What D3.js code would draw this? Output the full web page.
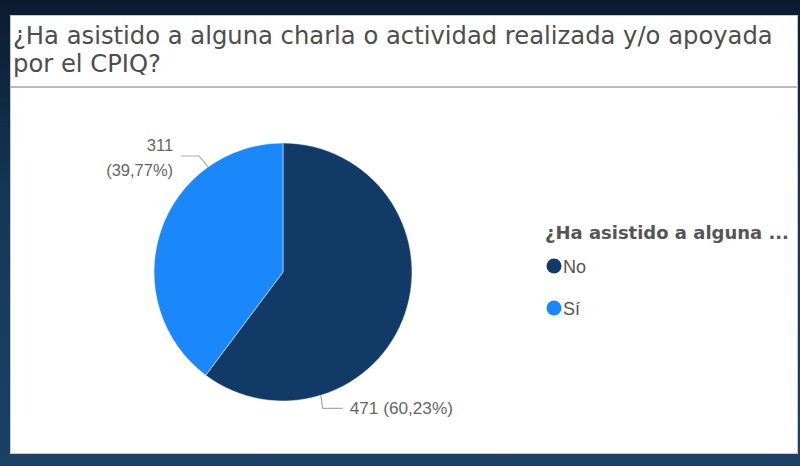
<!DOCTYPE html>
<html lang="es">
<head>
  <meta charset="utf-8">
  <title>¿Ha asistido a alguna charla?</title>
  <style>
    body { margin: 0; background: #0f2b47; }
    svg { display: block; }
  </style>
</head>
<body>
  <svg id="chart"></svg>

  <script src="https://d3js.org/d3.v7.min.js"></script>
  <script>
    // data
    const categories = ["No", "Sí"];
    const counts = [471, 311];
    const percents = ["60,23%", "39,77%"];
    const colors = ["#123a66", "#1a87fb"];

    const titleLines = ["¿Ha asistido a alguna charla o actividad realizada y/o apoyada", "por el CPIQ?"];
    const legendTitle = "¿Ha asistido a alguna ...";

    const width = 800;
    const height = 466;

    const svg = d3.select("#chart")
      .attr("width", width)
      .attr("height", height);

    const defs = svg.append("defs");
    const grad = defs.append("linearGradient")
      .attr("id", "bg")
      .attr("x1", 0).attr("y1", 0).attr("x2", 0).attr("y2", 1);
    grad.append("stop").attr("offset", "0%").attr("stop-color", "#0c1c30");
    grad.append("stop").attr("offset", "45%").attr("stop-color", "#153858");
    grad.append("stop").attr("offset", "100%").attr("stop-color", "#1b4165");

    svg.append("rect")
      .attr("width", width)
      .attr("height", height)
      .attr("fill", "url(#bg)");

    // white card
    const card = { x: 10, y: 15, w: 787, h: 438 };
    svg.append("rect")
      .attr("x", card.x + 0.5)
      .attr("y", card.y + 0.5)
      .attr("width", card.w)
      .attr("height", card.h)
      .attr("fill", "#fff")
      .attr("stroke", "#c8c8c8")
      .attr("stroke-width", 1);

    svg.append("line")
      .attr("x1", card.x)
      .attr("x2", card.x + card.w)
      .attr("y1", 87)
      .attr("y2", 87)
      .attr("stroke", "#b9b9b9")
      .attr("stroke-width", 2);

    // fit a text to a given width by tuning its font size
    function fitWidth(sel, target) {
      const node = sel.node();
      const size = +sel.attr("font-size");
      const w = node.getComputedTextLength();
      sel.attr("font-size", (size * target / w).toFixed(2));
    }

    const titleFont = "'DejaVu Sans', sans-serif";
    const title = svg.append("g")
      .selectAll("text")
      .data(titleLines)
      .join("text")
      .attr("x", 13)
      .attr("y", (d, i) => 44 + i * 28)
      .attr("font-family", titleFont)
      .attr("font-size", 20)
      .attr("fill", "#4d4d4d")
      .text(d => d);
    // first line spans to about x=773
    const t0 = d3.select(title.nodes()[0]);
    fitWidth(t0, 760);
    title.attr("font-size", t0.attr("font-size"));

    // pie
    const cx = 283, cy = 272, r = 129;
    const pie = d3.pie().sort(null).value(d => d)(counts);
    const arc = d3.arc().innerRadius(0).outerRadius(r);

    const g = svg.append("g").attr("transform", `translate(${cx},${cy})`);

    g.selectAll("path")
      .data(pie)
      .join("path")
      .attr("d", arc)
      .attr("fill", (d, i) => colors[i])
      .attr("stroke", "#fff")
      .attr("stroke-width", 0.5);

    // leader lines + labels (label angles as Power BI placed them)
    const labelFont = "'Liberation Sans', Arial, sans-serif";
    const lineColor = "#a8a8a8";
    const textColor = "#666";
    const labelAngle = [163, -35.5].map(a => a * Math.PI / 180);

    pie.forEach((d, i) => {
      const a = labelAngle[i];
      const edge = [Math.sin(a) * r, -Math.cos(a) * r];
      let pts;
      if (i === 0) {
        const elbow = [edge[0] + 2, edge[1] + 13];
        const end = [elbow[0] + 20, elbow[1]];
        pts = [edge, elbow, end];
        g.append("text")
          .attr("x", end[0] + 7)
          .attr("y", end[1] + 6)
          .attr("font-family", labelFont)
          .attr("font-size", 17.2)
          .attr("fill", textColor)
          .text(`${counts[i]} (${percents[i]})`);
      } else {
        const elbow = [edge[0] - 9, edge[1] - 11];
        const end = [elbow[0] - 18, elbow[1]];
        pts = [edge, elbow, end];
        const t = g.append("text")
          .attr("x", end[0] - 8)
          .attr("y", end[1] - 5)
          .attr("text-anchor", "end")
          .attr("font-family", labelFont)
          .attr("font-size", 16.5)
          .attr("fill", textColor);
        t.append("tspan").text(counts[i]);
        t.append("tspan")
          .attr("x", end[0] - 8)
          .attr("dy", 25)
          .text(`(${percents[i]})`);
      }
      g.append("polyline")
        .attr("points", pts.map(p => p.join(",")).join(" "))
        .attr("fill", "none")
        .attr("stroke", lineColor)
        .attr("stroke-width", 1.2);
    });

    // legend
    const legend = svg.append("g").attr("transform", "translate(545,0)");
    const lt = legend.append("text")
      .attr("x", 0)
      .attr("y", 239)
      .attr("font-family", "'DejaVu Sans', sans-serif")
      .attr("font-weight", "bold")
      .attr("font-size", 15)
      .attr("fill", "#555")
      .text(legendTitle);
    fitWidth(lt, 244);

    const items = legend.selectAll("g.item")
      .data(categories)
      .join("g")
      .attr("class", "item")
      .attr("transform", (d, i) => `translate(0,${266 + i * 42})`);

    items.append("circle")
      .attr("cx", 9)
      .attr("cy", 0)
      .attr("r", 7.5)
      .attr("fill", (d, i) => colors[i]);

    items.append("text")
      .attr("x", 18)
      .attr("y", 7)
      .attr("font-family", labelFont)
      .attr("font-size", 18)
      .attr("fill", "#555")
      .text(d => d);
  </script>
</body>
</html>
